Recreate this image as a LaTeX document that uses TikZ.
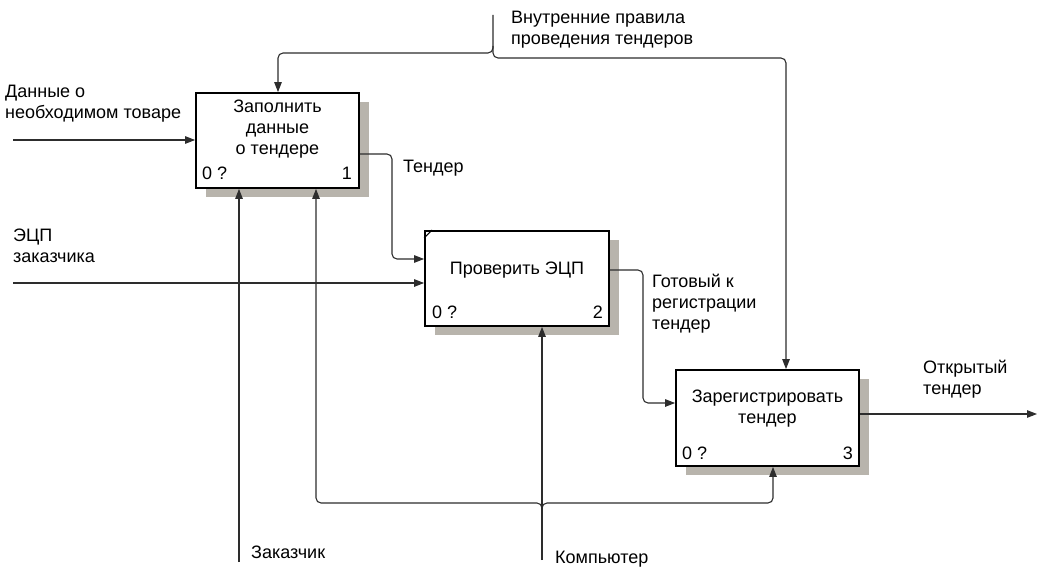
\documentclass[tikz,border=0pt]{standalone}
\usepackage{fontspec}
\setmainfont{Liberation Sans}
\usetikzlibrary{arrows.meta,shadows}
\definecolor{shadowc}{RGB}{184,180,172}
\definecolor{linec}{RGB}{45,45,45}
\tikzset{
  actbox/.style={draw=black, line width=1.8pt, fill=white,
    general shadow={shadow xshift=10pt,shadow yshift=-9pt,fill=shadowc}},
  conn/.style={draw=linec, line width=1.1pt, rounded corners=5pt},
  arr/.style={conn, -{Triangle[length=10pt,width=7.5pt]}},
  lbl/.style={align=left, anchor=north west},
  ttl/.style={align=center, anchor=north},
}
\begin{document}
\begin{tikzpicture}[x=1pt,y=-1pt,
  every node/.style={font=\fontsize{18}{21}\selectfont, inner sep=0pt, text=black}]
\useasboundingbox (0,0) rectangle (1050,575);

% activity boxes
\node[actbox, minimum width=163pt, minimum height=95pt] (b1) at (277.5,140.5) {};
\node[actbox, minimum width=184pt, minimum height=95pt] (b2) at (517,278.5) {};
\node[actbox, minimum width=183pt, minimum height=96pt] (b3) at (767.5,418) {};
\draw[line width=1pt] ([yshift=-8pt]b2.north west) -- ([xshift=8pt]b2.north west);

% titles
\node[ttl] (t1) at (277.5,100) {Заполнить\\данные\\о тендере};
\node[ttl] (t2) at (517,262) {Проверить ЭЦП};
\node[ttl] (t3) at (767.5,390) {Зарегистрировать\\тендер};

% corner labels
\node[anchor=base west] (n1a) at (202,179) {0 ?};
\node[anchor=base east] (n1b) at (352,179) {1};
\node[anchor=base west] (n2a) at (432,318) {0 ?};
\node[anchor=base east] (n2b) at (603,318) {2};
\node[anchor=base west] (n3a) at (682,459) {0 ?};
\node[anchor=base east] (n3b) at (853,459) {3};

% arrow labels
\node[lbl] (lin1) at (5,85) {Данные о\\необходимом товаре};
\node[lbl] (lin2) at (13,229) {ЭЦП\\заказчика};
\node[lbl] (lten) at (403,160) {Тендер};
\node[lbl] (lout2) at (652,274) {Готовый к\\регистрации\\тендер};
\node[lbl] (lout3) at (923,360) {Открытый\\тендер};
\node[lbl] (lctl) at (511,11) {Внутренние правила\\проведения тендеров};
\node[lbl] (lm1) at (251,546) {Заказчик};
\node[lbl] (lm2) at (555,551) {Компьютер};

% inputs
\coordinate (in1) at (13,140);
\draw[arr] (in1) -- (in1 -| b1.west);
\coordinate (in2) at (13,283);
\draw[arr] (in2) -- (in2 -| b2.west);

% outputs
\draw[arr] (b1.east |- 0,154) -- (392,154) -- (392,259) -- (b2.west |- 0,259);
\draw[arr] (b2.east |- 0,270) -- (643,270) -- (643,403) -- (b3.west |- 0,403);
\coordinate (out3) at (1037,414);
\draw[arr] (b3.east |- out3) -- (out3);

% control
\coordinate (ctl) at (493,15);
\draw[arr] (ctl) -- (493,53) -- (278,53) -- (278,0 |- b1.north);
\draw[arr] (493,46) -- (493,58) -- (786,58) -- (786,0 |- b3.north);

% mechanisms
\coordinate (m1) at (239,562);
\draw[arr] (m1) -- (m1 |- b1.south);
\coordinate (m2) at (542,560);
\draw[arr] (m2) -- (m2 |- b2.south);
\draw[arr] (542,512) -- (542,503) -- (316,503) -- (316,0 |- b1.south);
\draw[arr] (542,512) -- (542,503) -- (773,503) -- (773,0 |- b3.south);
\end{tikzpicture}
\end{document}
